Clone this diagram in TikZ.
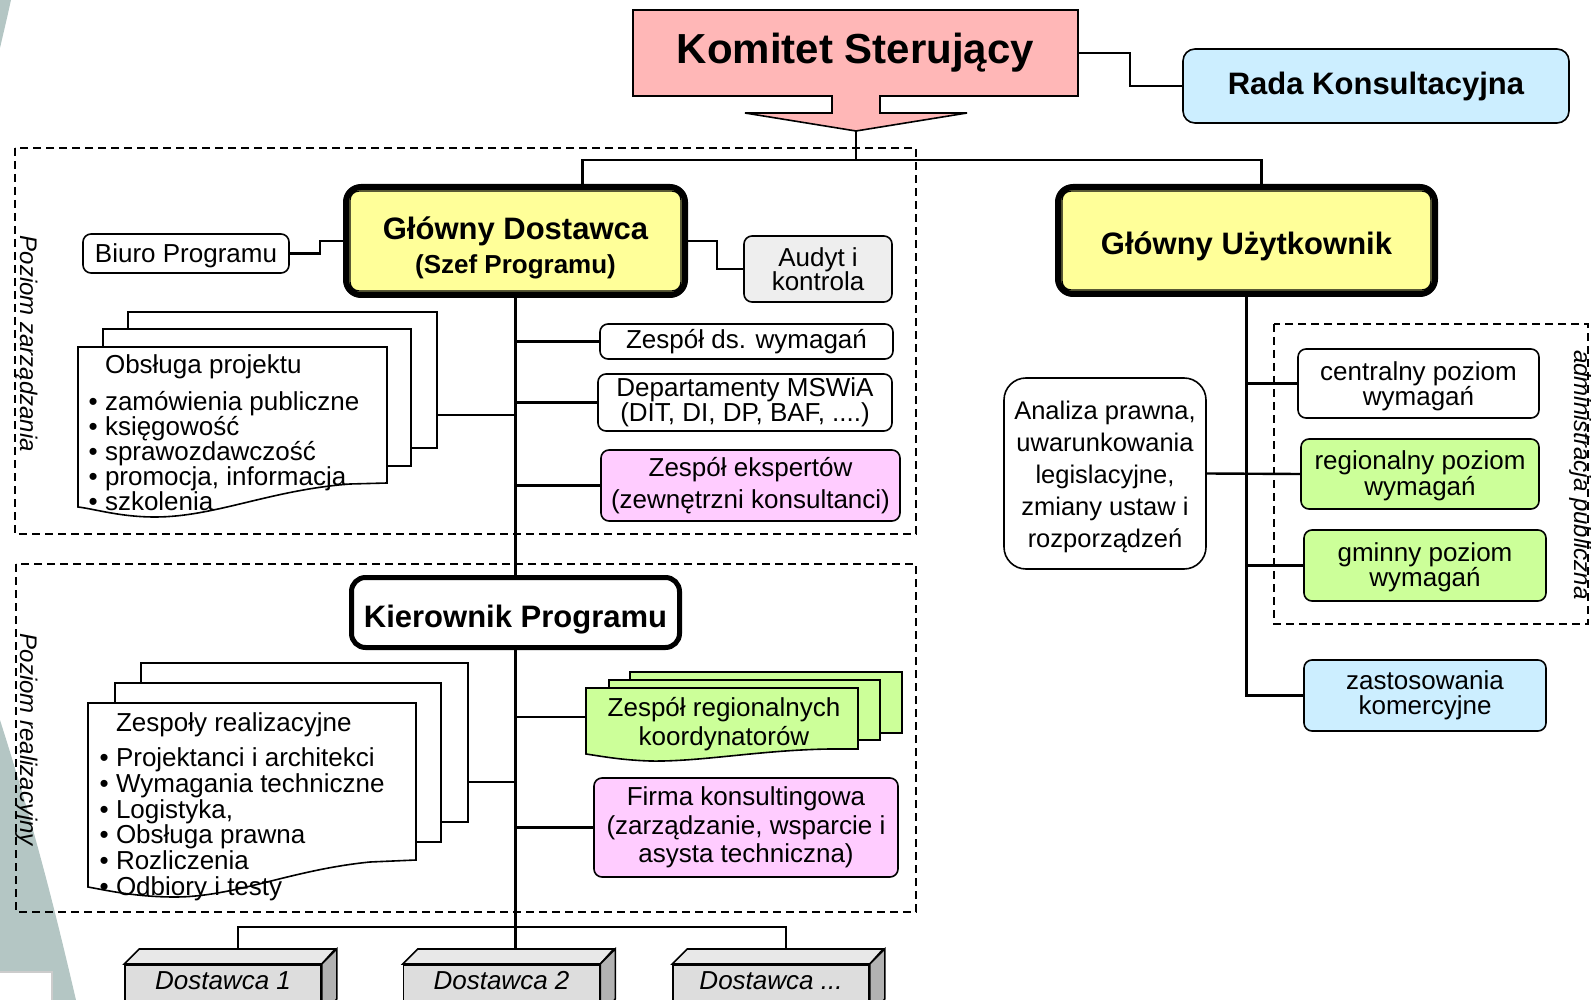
\documentclass[tikz,border=0pt]{standalone}
\usepackage{fontspec}
\setmainfont{Liberation Sans}
\usepackage{tikz}
\usetikzlibrary{positioning, shapes, arrows}
\definecolor{ksred}{HTML}{FFB7B7}
\definecolor{radablue}{HTML}{CCEEFF}
\definecolor{leadyellow}{HTML}{FFFF99}
\definecolor{expertpink}{HTML}{FFCCFF}
\definecolor{levelgreen}{HTML}{CCFF99}
\definecolor{auditgray}{HTML}{EEEEEE}
\definecolor{slidebg}{HTML}{B4C6C4}
\definecolor{supfront}{HTML}{DDDDDD}
\definecolor{suptop}{HTML}{E8E8E8}
\definecolor{supside}{HTML}{B2B2B2}
\newcommand{\textdown}[2]{\raisebox{-#1}[\height][\depth]{#2}}
\tikzstyle{box} = [rectangle, rounded corners=8pt, draw=black, line width=1.6pt, fill=white, align=center, inner sep=0pt, font=\fontsize{26}{24.5}\selectfont]
\tikzstyle{lead} = [rectangle, rounded corners=15pt, draw=black, line width=6pt, fill=leadyellow, align=center, inner sep=0pt, font=\bfseries\fontsize{31}{35}\selectfont]
\tikzstyle{sheet} = [rectangle, draw=black, line width=1.6pt, fill=white, inner sep=0pt]
\tikzstyle{sheetline} = [line width=1.6pt, fill=white]
\tikzstyle{itemlist} = [align=left, inner sep=0pt, font=\fontsize{26}{25}\selectfont]
\tikzstyle{supplier} = [rectangle, draw=black, line width=1.6pt, fill=supfront, minimum width=196pt, text height=25pt, text depth=25pt, inner ysep=0pt, anchor=north, font=\itshape\fontsize{26}{26}\selectfont]
\tikzstyle{zone} = [line width=1.6pt, dash pattern=on 8pt off 5pt]
\tikzstyle{zonelabel} = [rotate=-90, anchor=base, inner sep=0pt, font=\itshape\fontsize{24}{24}\selectfont]
\tikzstyle{link} = [line width=2.4pt]
\begin{document}
\begin{tikzpicture}[x=1pt, y=-1pt]
        \useasboundingbox (0,0) rectangle (1591,1000);
        % slide background
        \fill[slidebg] (0,0) -- (11,0) .. controls (7,18) .. (0,48) -- cycle;
        \fill[slidebg] (0,720) .. controls (35,830) and (55,910) .. (76,1000) -- (0,1000) -- cycle;
        \draw[draw=black!20, fill=white, line width=1.5pt] (-2,972) rectangle (52,1004);

        % levels
        \draw[zone] (15,148) rectangle (916,534);
        \draw[zone] (16,564) rectangle (916,912);
        \draw[zone] (1274,324) rectangle (1588,624);
        \node (lvltop) [zonelabel] at (20,344) {Poziom zarządzania};
        \node (lvlbot) [zonelabel] at (20,740) {Poziom realizacyjny};
        \node (lvladm) [zonelabel] at (1574,475) {administracja publiczna};

        % steering committee
        \draw[fill=ksred, line width=1.6pt] (633,10) -- (1078,10) -- (1078,96) -- (880,96) -- (880,113) -- (967,113) -- (856,131) -- (745,113) -- (832,113) -- (832,96) -- (633,96) -- cycle;
        \node (ks) [minimum width=445pt, minimum height=86pt, inner sep=0pt, font=\bfseries\fontsize{42}{42}\selectfont] at (855.5,53) {Komitet Sterujący};
        \coordinate (kstip) at (856,131);
        \node (rada) [box, fill=radablue, rounded corners=12pt, minimum width=386pt, minimum height=74pt, font=\bfseries\fontsize{31}{31}\selectfont] at (1376,86) {Rada Konsultacyjna};

        % management level
        \node (gd) [lead, minimum width=339pt, minimum height=108pt] at (515.5,241) {\textdown{7pt}{Główny Dostawca}\\{\fontsize{26}{35}\selectfont\textdown{6pt}{(Szef Programu)}}};
        \draw[line width=1.4pt, rounded corners=9pt] ([xshift=7pt,yshift=-7pt]gd.north west) rectangle ([xshift=-7pt,yshift=7pt]gd.south east);
        \node (gu) [lead, minimum width=377pt, minimum height=107pt] at (1246.5,240.5) {\textdown{6pt}{Główny Użytkownik}};
        \draw[line width=1.4pt, rounded corners=9pt] ([xshift=7pt,yshift=-7pt]gu.north west) rectangle ([xshift=-7pt,yshift=7pt]gu.south east);
        \node (biuro) [box, minimum width=206pt, minimum height=39pt] at (186,253.5) {\textdown{2pt}{Biuro Programu}};
        \node (audyt) [box, fill=auditgray, minimum width=148pt, minimum height=66pt] at (818,269) {Audyt i\\kontrola};
        \node (zdw) [box, minimum width=293pt, minimum height=35pt] at (746.5,341.5) {Zespół ds. wymagań};
        \node (dep) [box, minimum width=294pt, minimum height=57pt] at (745,402.5) {Departamenty MSWiA\\(DIT, DI, DP, BAF, ....)};
        \node (zek) [box, fill=expertpink, minimum width=299pt, minimum height=71pt, font=\fontsize{26}{31.5}\selectfont] at (750.5,485.5) {Zespół ekspertów\\(zewnętrzni konsultanci)};

        % project support
        \node (op3) [sheet, minimum width=309pt, minimum height=136pt] at (282.5,380) {};
        \node (op2) [sheet, minimum width=308pt, minimum height=137pt] at (257,397.5) {};
        \draw[sheetline] (78,347) -- (387,347) -- (387,483) -- (350,484) .. controls (270,490) and (215,517) .. (155,517) .. controls (120,517) and (95,509) .. (78,507) -- cycle;
        \node (op) [itemlist, anchor=north west] at (88.5,354) {\phantom{•\ }Obsługa projektu\\[12pt]• zamówienia publiczne\\• księgowość\\• sprawozdawczość\\• promocja, informacja\\• szkolenia};

        % realisation level
        \node (kp) [box, line width=5pt, rounded corners=14pt, minimum width=328pt, minimum height=70pt, font=\bfseries\fontsize{31}{31}\selectfont] at (515.5,612.5) {\textdown{7pt}{Kierownik Programu}};
        \node (zr3) [sheet, minimum width=327pt, minimum height=159pt] at (304.5,742.5) {};
        \node (zr2) [sheet, minimum width=326pt, minimum height=159pt] at (278,762.5) {};
        \draw[sheetline] (88,703) -- (416,703) -- (416,860) -- (370,862) .. controls (290,870) and (235,897) .. (175,897) .. controls (135,897) and (105,890) .. (88,887) -- cycle;
        \node (zr) [itemlist, anchor=north west, font=\fontsize{26}{25.7}\selectfont] at (99.5,712) {\phantom{•\ }Zespoły realizacyjne\\[10pt]• Projektanci i architekci\\• Wymagania techniczne\\• Logistyka,\\• Obsługa prawna\\• Rozliczenia\\• Odbiory i testy};
        \node (zrk3) [sheet, fill=levelgreen, minimum width=272pt, minimum height=61pt] at (766,702.5) {};
        \node (zrk2) [sheet, fill=levelgreen, minimum width=271pt, minimum height=60pt] at (744.5,710) {};
        \draw[sheetline, fill=levelgreen] (586,688) -- (858,688) -- (858,749) -- (830,749) .. controls (760,750) and (700,762) .. (650,761) .. controls (620,760) and (600,756) .. (586,754) -- cycle;
        \node (zrk) [align=center, inner sep=0pt, font=\fontsize{26}{29}\selectfont] at (724,724.5) {Zespół regionalnych\\koordynatorów};
        \coordinate (zrkw) at (586,717);
        \node (firma) [box, fill=expertpink, minimum width=304pt, minimum height=99pt, font=\fontsize{26}{28.5}\selectfont] at (746,827.5) {Firma konsultingowa\\(zarządzanie, wsparcie i\\asysta techniczna)};

        % suppliers
        \node (d1) [supplier] at (223,964) {Dostawca 1};
        \node (d2) [supplier] at (501.5,964) {Dostawca 2};
        \node (d3) [supplier] at (771,964) {Dostawca ...};
        \draw[line width=1.6pt, fill=suptop] (d1.north west) -- ++(15,-15) -- ++(196,0) -- (d1.north east) -- cycle;
        \draw[line width=1.6pt, fill=supside] (d1.north east) -- ++(15,-15) -- ++(0,50) -- (d1.south east) -- cycle;
        \draw[line width=1.6pt, fill=suptop] (d2.north west) -- ++(15,-15) -- ++(196,0) -- (d2.north east) -- cycle;
        \draw[line width=1.6pt, fill=supside] (d2.north east) -- ++(15,-15) -- ++(0,50) -- (d2.south east) -- cycle;
        \draw[line width=1.6pt, fill=suptop] (d3.north west) -- ++(15,-15) -- ++(196,0) -- (d3.north east) -- cycle;
        \draw[line width=1.6pt, fill=supside] (d3.north east) -- ++(15,-15) -- ++(0,50) -- (d3.south east) -- cycle;
        \coordinate (d1top) at ([xshift=15pt,yshift=15pt]d1.north);
        \coordinate (d2top) at ([xshift=15pt,yshift=15pt]d2.north);
        \coordinate (d3top) at ([xshift=15pt,yshift=15pt]d3.north);

        % user side
        \node (analiza) [box, rounded corners=22pt, minimum width=202pt, minimum height=191pt, font=\fontsize{25.5}{32}\selectfont] at (1105,473.5) {\textdown{3pt}{Analiza prawna,}\\\textdown{3pt}{uwarunkowania}\\\textdown{3pt}{legislacyjne,}\\\textdown{3pt}{zmiany ustaw i}\\\textdown{3pt}{rozporządzeń}};
        \node (central) [box, minimum width=241pt, minimum height=69pt] at (1418.5,383.5) {\textdown{3pt}{centralny poziom}\\\textdown{3pt}{wymagań}};
        \node (region) [box, fill=levelgreen, minimum width=238pt, minimum height=70pt] at (1420,474) {\textdown{2pt}{regionalny poziom}\\\textdown{2pt}{wymagań}};
        \node (gminny) [box, fill=levelgreen, minimum width=242pt, minimum height=71pt] at (1425,565.5) {\textdown{2pt}{gminny poziom}\\\textdown{2pt}{wymagań}};
        \node (zast) [box, fill=radablue, minimum width=242pt, minimum height=71pt] at (1425,695.5) {zastosowania\\komercyjne};

        % connectors
        \draw[link] (kstip) -- ++(0,29) coordinate (bus);
        \draw[link] ([xshift=67pt]gd.north) |- (bus) -| ([xshift=15pt]gu.north);
        \draw[link] (ks.east) -- ++(52,0) |- (rada.west);
        \draw[link] (biuro.east) -- ++(30,0) |- (gd.west);
        \draw[link] (gd.east) -- ++(29,0) |- (audyt.west);
        \draw[link] (gd.south) -- (kp.north);
        \draw[link] (zdw.west -| gd.south) -- (zdw.west);
        \draw[link] (dep.west -| gd.south) -- (dep.west);
        \draw[link] (zek.west -| gd.south) -- (zek.west);
        \coordinate (opc) at ([yshift=-35pt]op3.east);
        \draw[link] (opc) -- (opc -| gd.south);
        \coordinate (zrc) at ([yshift=-39.5pt]zr3.east);
        \draw[link] (zrc) -- (zrc -| kp.south);
        \draw[link] (zrkw -| kp.south) -- (zrkw);
        \draw[link] (firma.west -| kp.south) -- (firma.west);
        \draw[link] (kp.south) -- (kp.south |- d2top);
        \draw[link] (d1top) -- ++(0,-22) -| (d3top);
        \draw[link] (gu.south) |- (zast.west);
        \draw[link] (central.west -| gu.south) -- (central.west);
        \draw[link] (gminny.west -| gu.south) -- (gminny.west);
        \draw[link] (analiza.east) -- (region.west);

\end{tikzpicture}
\end{document}
